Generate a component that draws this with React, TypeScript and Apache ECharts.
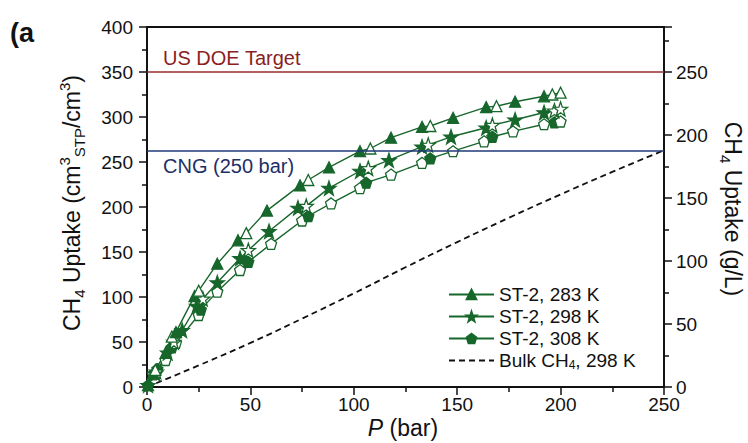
import React, { useEffect, useRef } from "react";
import * as echarts from "echarts";

// ---------- data ----------
const P283_FILLED = [0.5, 3, 9, 14, 23, 34, 44, 58, 74, 88, 103, 118, 133, 148, 164, 178, 192];
const V283_FILLED = [2, 15, 38, 61, 101, 137, 163, 196, 224, 244, 262, 277, 289, 299, 311, 317, 323];
const P283_OPEN = [4, 12, 25, 48, 78, 108, 137, 169, 196, 200];
const V283_OPEN = [19, 56, 107, 171, 230, 265, 290, 312, 325, 327];

const P298_FILLED = [0.5, 4, 10, 17, 24, 34, 45, 59, 73, 88, 103, 117, 133, 147, 164, 178, 192];
const V298_FILLED = [2, 15, 38, 63, 90, 116, 143, 173, 199, 221, 240, 252, 267, 278, 288, 297, 305];
const P298_OPEN = [4.5, 13, 27, 49, 77, 107, 136, 167, 197, 200];
const V298_OPEN = [17, 50, 98, 152, 201, 243, 269, 291, 307, 309];

const P308_FILLED = [0.5, 5, 12, 26, 49, 78, 106, 137, 167, 197];
const V308_FILLED = [2, 20, 44, 86, 139, 190, 227, 254, 278, 294];
const P308_OPEN = [3, 9, 14, 25, 34, 45, 60, 75, 89, 103, 118, 133, 148, 163, 177, 192, 200];
const V308_OPEN = [14, 30, 49, 80, 106, 130, 159, 185, 204, 221, 236, 249, 262, 273, 284, 292, 295];

const BULK_P = [0, 25, 50, 75, 100, 125, 150, 175, 200, 225, 250];
const BULK_V = [0, 24, 49, 76, 104, 133, 161, 188, 214, 239, 263];

const US_DOE_TARGET = 350;
const CNG_250 = 263;

const X_TICKS = { min: 0, max: 250, interval: 50 };
const Y_LEFT = { min: 0, max: 400, interval: 50 };
const Y_RIGHT = { min: 0, max: 2000 / 7, interval: 50 }; // 250 g/L == 350 cm3/cm3

const SERIES_NAMES = ["ST-2, 283 K", "ST-2, 298 K", "ST-2, 308 K", "Bulk CH4, 298 K"];

// ---------- styles ----------
const FONT = "'Liberation Sans', Arial, Helvetica, sans-serif";
const GREEN = "#17662B";
const INK = "#111111";
const STAR = "path://M0,-10L2.35,-3.24L9.51,-3.09L3.8,1.24L5.88,8.09L0,4L-5.88,8.09L-3.8,1.24L-9.51,-3.09L-2.35,-3.24Z";
const PENTAGON = "path://M0,-10L9.51,-3.09L5.88,8.09L-5.88,8.09L-9.51,-3.09Z";

function merged(pf: number[], vf: number[], po: number[], vo: number[]) {
  const pts: any[] = [];
  pf.forEach((p, i) => pts.push({ value: [p, vf[i]] }));
  po.forEach((p, i) => pts.push({ value: [p, vo[i]], itemStyle: { color: "#ffffff" } }));
  pts.sort((a, b) => a.value[0] - b.value[0]);
  return pts;
}

function isoSeries(name: string, data: any[], symbol: string, size: number) {
  return {
    type: "line",
    name,
    data,
    symbol,
    symbolSize: size,
    showAllSymbol: true,
    lineStyle: { color: GREEN, width: 1.4 },
    itemStyle: { color: GREEN, borderColor: GREEN, borderWidth: 1.3 },
    z: 3,
  };
}

const axisCommon = {
  axisLine: { show: true, lineStyle: { color: INK, width: 1.8 } },
  axisTick: { show: true, length: 8, lineStyle: { color: INK, width: 1.5 } },
  minorTick: { show: true, splitNumber: 2, length: 5, lineStyle: { color: INK, width: 1.5 } },
  splitLine: { show: false },
  minorSplitLine: { show: false },
};

export default function App() {
  const ref = useRef<HTMLDivElement>(null);
  useEffect(() => {
    if (!ref.current) return;
    const chart = echarts.init(ref.current, null, { renderer: "svg" });
    const option: any = {
      animation: false,
      backgroundColor: "#ffffff",
      grid: { left: 147, right: 84, top: 27, bottom: 56, show: true, borderColor: INK, borderWidth: 1.8 },
      xAxis: {
        type: "value",
        ...X_TICKS,
        ...axisCommon,
        axisLabel: { fontSize: 19, color: INK, fontFamily: FONT, margin: 8 },
      },
      yAxis: [
        {
          type: "value",
          position: "left",
          ...Y_LEFT,
          ...axisCommon,
          axisLabel: { fontSize: 19, color: INK, fontFamily: FONT, margin: 14 },
        },
        {
          type: "value",
          position: "right",
          ...Y_RIGHT,
          ...axisCommon,
          axisLabel: { fontSize: 19, color: INK, fontFamily: FONT, margin: 12, showMaxLabel: false },
        },
      ],
      legend: {
        data: [
          SERIES_NAMES[0],
          SERIES_NAMES[1],
          SERIES_NAMES[2],
          { name: SERIES_NAMES[3], itemStyle: { opacity: 0 } },
        ],
        orient: "vertical",
        left: 443,
        top: 280,
        itemWidth: 45,
        itemHeight: 12,
        itemGap: 3,
        selectedMode: false,
        formatter: (name: string) =>
          name.startsWith("Bulk") ? "{a|Bulk CH}{s|4}{a|, 298 K}" : "{a|" + name + "}",
        textStyle: {
          fontSize: 19,
          fontFamily: FONT,
          color: INK,
          rich: {
            a: { fontSize: 19, fontFamily: FONT, color: INK, lineHeight: 20 },
            s: { fontSize: 12, fontFamily: FONT, color: INK, lineHeight: 10, verticalAlign: "bottom" },
          },
        },
      },
      series: [
        {
          type: "line",
          name: SERIES_NAMES[3],
          data: BULK_P.map((p, i) => [p, BULK_V[i]]),
          smooth: true,
          symbol: "none",
          lineStyle: { color: INK, width: 1.8, type: [6, 4] },
          itemStyle: { color: INK },
          z: 2,
          markLine: {
            silent: true,
            symbol: ["none", "none"],
            label: { show: false },
            data: [
              { yAxis: US_DOE_TARGET, lineStyle: { color: "#9A2B2B", width: 1.6, type: "solid" } },
              { yAxis: CNG_250, lineStyle: { color: "#203878", width: 1.6, type: "solid" } },
            ],
          },
        },
        isoSeries(SERIES_NAMES[2], merged(P308_FILLED, V308_FILLED, P308_OPEN, V308_OPEN), PENTAGON, 11),
        isoSeries(SERIES_NAMES[1], merged(P298_FILLED, V298_FILLED, P298_OPEN, V298_OPEN), STAR, 14),
        isoSeries(SERIES_NAMES[0], merged(P283_FILLED, V283_FILLED, P283_OPEN, V283_OPEN), "triangle", 11),
      ],
      graphic: [
        {
          type: "text",
          left: 10,
          top: 19,
          style: { text: "(a", fontSize: 27, fontWeight: "bold", fontFamily: FONT, fill: INK },
        },
        {
          type: "text",
          x: 163,
          y: 58,
          style: {
            text: "US DOE Target",
            fontSize: 20,
            fontFamily: FONT,
            fill: "#8B1E1E",
            align: "left",
            verticalAlign: "middle",
            textAlign: "left",
            textVerticalAlign: "middle",
          },
        },
        {
          type: "text",
          x: 163,
          y: 166,
          style: {
            text: "CNG (250 bar)",
            fontSize: 20,
            fontFamily: FONT,
            fill: "#1E2F66",
            align: "left",
            verticalAlign: "middle",
            textAlign: "left",
            textVerticalAlign: "middle",
          },
        },
        {
          type: "text",
          x: 72,
          y: 203,
          rotation: Math.PI / 2,
          style: {
            text: "{a|CH}{s|4}{a| Uptake (cm}{p|3}{s|STP}{a|/cm}{p|3}{a|)}",
            align: "center",
            verticalAlign: "middle",
            textAlign: "center",
            textVerticalAlign: "middle",
            fill: INK,
            rich: {
              a: { fontSize: 23, fontFamily: FONT, fill: INK, color: INK, lineHeight: 30 },
              s: { fontSize: 15, fontFamily: FONT, fill: INK, color: INK, lineHeight: 15, verticalAlign: "bottom" },
              p: { fontSize: 15, fontFamily: FONT, fill: INK, color: INK, lineHeight: 15, verticalAlign: "top" },
            },
          },
        },
        {
          type: "text",
          x: 733,
          y: 209,
          rotation: -Math.PI / 2,
          style: {
            text: "{a|CH}{s|4}{a| Uptake (g/L)}",
            align: "center",
            verticalAlign: "middle",
            textAlign: "center",
            textVerticalAlign: "middle",
            fill: INK,
            rich: {
              a: { fontSize: 23, fontFamily: FONT, fill: INK, color: INK, lineHeight: 30 },
              s: { fontSize: 15, fontFamily: FONT, fill: INK, color: INK, lineHeight: 15, verticalAlign: "bottom" },
            },
          },
        },
        {
          type: "text",
          x: 403,
          y: 428,
          style: {
            text: "{i|P}{a| (bar)}",
            align: "center",
            verticalAlign: "middle",
            textAlign: "center",
            textVerticalAlign: "middle",
            fill: INK,
            rich: {
              i: { fontSize: 23, fontFamily: FONT, fontStyle: "italic", fill: INK, color: INK },
              a: { fontSize: 23, fontFamily: FONT, fill: INK, color: INK },
            },
          },
        },
      ],
    };
    chart.setOption(option);
    return () => chart.dispose();
  }, []);
  return (
    <div
      ref={ref}
      style={{ position: "fixed", left: 0, top: 0, width: 748, height: 443, background: "#fff" }}
    />
  );
}
